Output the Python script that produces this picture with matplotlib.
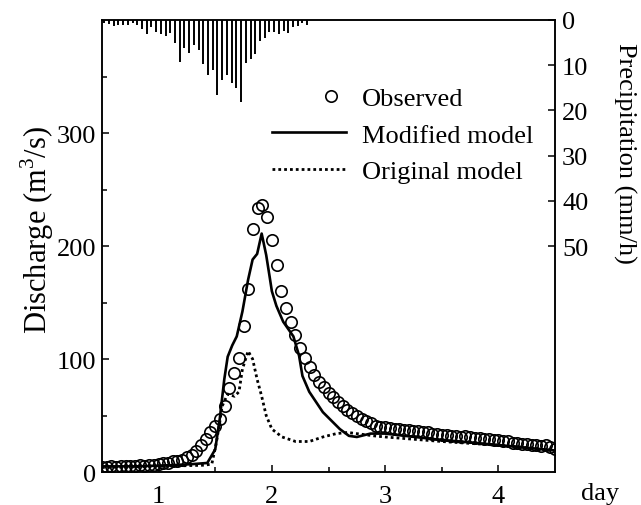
import numpy as np
import matplotlib
matplotlib.use("Agg")
import matplotlib.pyplot as plt
from matplotlib.legend_handler import HandlerLine2D

plt.rcParams['font.family'] = ['Liberation Serif', 'DejaVu Serif']
plt.rcParams['mathtext.fontset'] = 'custom'
plt.rcParams['mathtext.rm'] = 'Liberation Serif'

# hourly observed discharge (m3/s), starting at day 0.5
obs_start = 0.5
obs_q = [4, 4, 5, 4, 5, 5, 5, 5, 6, 5, 6, 6, 7, 8, 8, 10, 10, 11, 13, 15,
         19, 24, 29, 35, 41, 47, 58, 74, 88, 101, 129, 162, 215, 234, 236, 226,
         205, 183, 160, 145, 133, 121, 110, 101, 93, 86, 80, 75, 70, 66, 62, 58,
         55, 52, 50, 47, 45, 43, 41, 40, 40, 39, 38, 38, 37, 37, 36, 36, 35, 35,
         34, 34, 33, 33, 32, 32, 31, 32, 31, 30, 30, 29, 29, 28, 28, 27, 27, 26,
         26, 25, 25, 24, 24, 23, 24, 22, 20]

# modified model
mod_t = [0.5, 0.8, 1.1, 1.3, 1.43, 1.50, 1.54, 1.58, 1.61, 1.65, 1.69, 1.74,
         1.79, 1.83, 1.87, 1.91, 1.95, 1.98, 2.00, 2.04, 2.10, 2.19, 2.24, 2.27,
         2.33, 2.45, 2.60, 2.68, 2.75, 2.87, 3.0, 3.44, 3.88, 4.2, 4.5]
mod_q = [5, 5, 6, 7, 8, 20, 47, 82, 102, 112, 120, 142,
         170, 188, 193, 211, 192, 173, 160, 147, 133, 120, 103, 85,
         71, 53, 38, 32, 31, 34, 34, 29, 25, 22, 19]

# original model
org_t = [0.5, 1.0, 1.40, 1.47, 1.51, 1.54, 1.56, 1.61, 1.67, 1.71, 1.74, 1.79,
         1.83, 1.87, 1.91, 1.95, 2.0, 2.09, 2.21, 2.33, 2.45, 2.57, 2.67, 2.9,
         3.0, 3.5, 4.1, 4.5]
org_q = [4, 5, 6, 7, 26, 44, 58, 69, 67, 71, 91, 107,
         100, 82, 67, 50, 38, 31, 27, 27, 31, 34, 35, 32,
         31, 27, 23, 19]

# hourly precipitation (mm/h)
rain_start = 0.52
rain = [0.6, 0.9, 1.3, 1.1, 1.1, 1.1, 0.7, 1.1, 2.1, 3.1, 1.5, 2.6, 3.1, 3.5,
        2.8, 5.0, 9.4, 6.3, 7.4, 5.5, 6.6, 9.7, 12.1, 11.0, 16.5, 13.2, 12.1,
        14.0, 15.1, 18.2, 9.6, 8.7, 7.5, 4.6, 4.0, 2.6, 2.6, 3.1, 2.4, 2.8, 1.6,
        1.3, 0.6, 1.1]

obs_t = obs_start + np.arange(len(obs_q)) / 24.0
rain_t = rain_start + np.arange(len(rain)) / 24.0

fs = 19
fig = plt.figure(figsize=(6.41, 5.06), dpi=100)
ax = fig.add_axes([0.159, 0.0652, 0.707, 0.8933])

l_mod, = ax.plot(mod_t, mod_q, color='black', lw=1.9, label='Modified model')
l_org, = ax.plot(org_t, org_q, color='black', lw=2.0, ls=(0, (1, 1.1)),
                 label='Original model')
l_obs, = ax.plot(obs_t, obs_q, 'o', ms=8.2, mfc='none', mec='black', mew=1.2,
                 label='Observed')

ax.set_xlim(0.5, 4.5)
ax.set_ylim(0, 400)
ax.set_xticks([1, 2, 3, 4])
ax.set_xticks([1.5, 2.5, 3.5], minor=True)
ax.set_yticks([0, 100, 200, 300])
ax.set_yticks([50, 150, 250, 350], minor=True)
ax.tick_params(which='both', direction='in', labelsize=fs, width=1.1)
ax.tick_params(which='major', length=5)
ax.tick_params(which='minor', length=3.5)
ax.tick_params(axis='x', pad=9)
ax.tick_params(axis='y', pad=4)
ax.set_ylabel('Discharge (m$^3$/s)', fontsize=22)
ax.yaxis.set_label_coords(-0.102, 0.537)
ax.text(1.099, -0.06, 'day', transform=ax.transAxes, fontsize=fs,
        ha='center', va='baseline')

ax2 = ax.twinx()
ax2.vlines(rain_t, 0, rain, color='black', lw=1.4)
ax2.set_ylim(100, 0)
ax2.set_yticks([0, 10, 20, 30, 40, 50])
ax2.tick_params(direction='in', labelsize=fs, length=5, width=1.1, pad=5)
ax2.set_ylabel('Precipitation (mm/h)', fontsize=fs, rotation=270)
ax2.yaxis.set_label_coords(1.179, 0.708)

for a in (ax, ax2):
    for s in a.spines.values():
        s.set_linewidth(1.1)


class RightMarker(HandlerLine2D):
    # single marker drawn toward the right end of the handle
    def get_xdata(self, legend, xdescent, ydescent, width, height, fontsize):
        xd = [-xdescent + 0.6 * width, -xdescent + width]
        return xd, xd


ax2.legend([l_obs, l_mod, l_org], ['Observed', 'Modified model', 'Original model'],
           handler_map={l_obs: RightMarker(numpoints=1)},
           loc='upper left', bbox_to_anchor=(0.375, 0.853), frameon=False,
           fontsize=fs, borderpad=0, borderaxespad=0, handlelength=2.8,
           handletextpad=0.6, labelspacing=0.5)

fig.savefig('out.png', dpi=100)
